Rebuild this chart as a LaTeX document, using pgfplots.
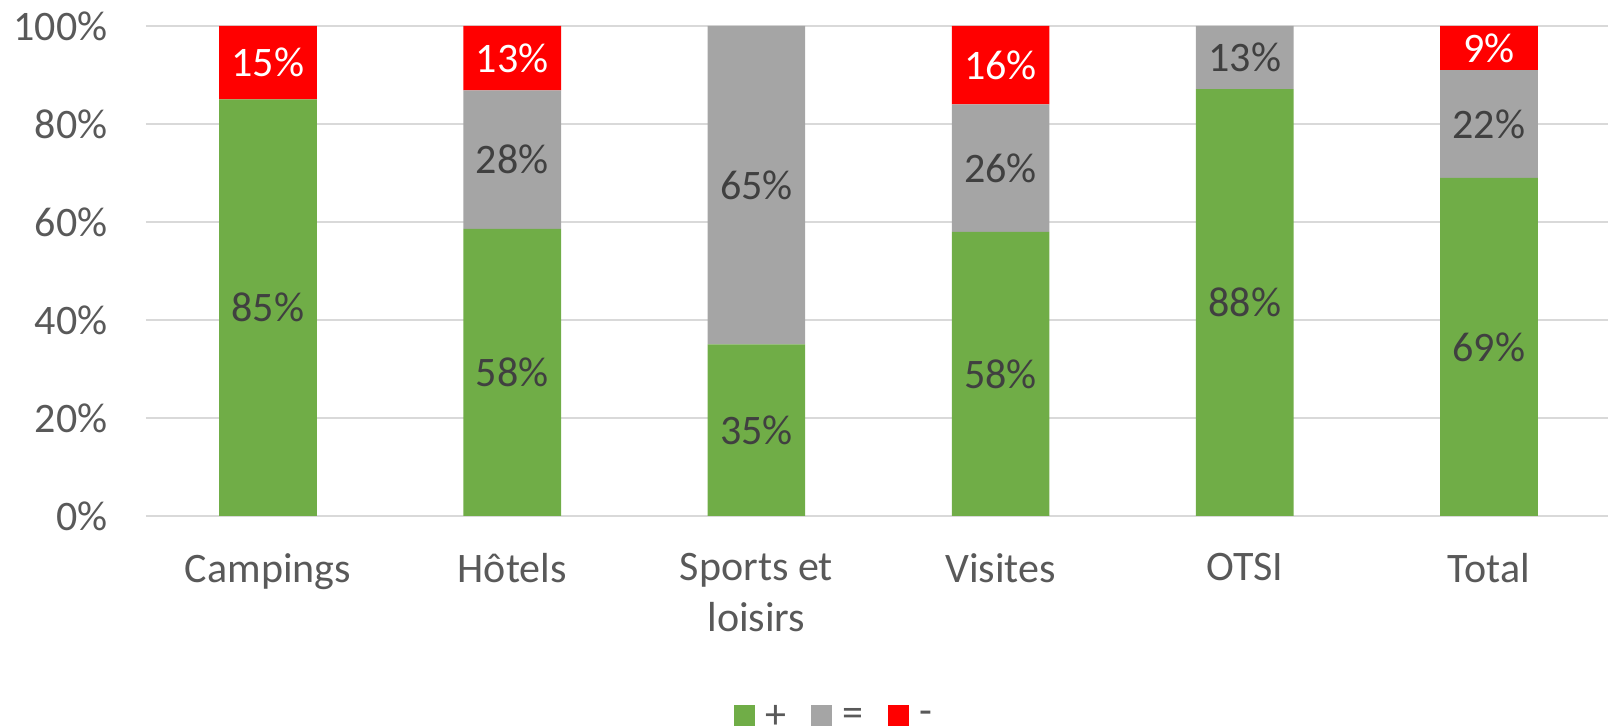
\documentclass[border=0pt]{standalone}
\usepackage{pgfplots}
\pgfplotsset{compat=1.18}
\usepackage{pgfplotstable}
\usepackage{fontspec}
\setmainfont{Carlito}
\definecolor{cgreen}{HTML}{70AD47}
\definecolor{cgray}{HTML}{A5A5A5}
\definecolor{cred}{HTML}{FF0000}
\definecolor{ctick}{HTML}{595959}
\definecolor{clab}{HTML}{404040}
\definecolor{cgrid}{HTML}{D9D9D9}
% values normalised to 100 (percent stacked), labels as shown
\pgfplotstableread{
x y lab
0 85 85\%
1 58.59 58\%
2 35 35\%
3 58 58\%
4 87.13 88\%
5 69 69\%
}\tplus
\pgfplotstableread{
x y lab
0 0 {}
1 28.28 28\%
2 65 65\%
3 26 26\%
4 12.87 13\%
5 22 22\%
}\teq
\pgfplotstableread{
x y lab
0 15 15\%
1 13.13 13\%
2 0 {}
3 16 16\%
4 0 {}
5 9 9\%
}\tminus
\pgfplotsset{sq legend/.style={legend image code/.code={\fill[##1] (0pt,-3.5pt) rectangle (10.5pt,7pt);}}}
\begin{document}
\begin{tikzpicture}
\useasboundingbox (0,0) rectangle (804pt,363pt);
\begin{axis}[
  at={(72.95pt,105pt)}, anchor=south west,
  scale only axis, width=731pt, height=245pt,
  ybar stacked, bar width=0.4,
  xmin=-0.5, xmax=5.487, ymin=0, ymax=100,
  xtick={0,...,5},
  xticklabels={Campings,Hôtels,{Sports et\\loisirs},Visites,OTSI,Total},
  ytick={0,20,40,60,80,100},
  yticklabels={0\%,20\%,40\%,60\%,80\%,100\%},
  ymajorgrids, grid style={cgrid, line width=1pt},
  axis line style={draw=none},
  major tick length=0pt,
  font=\fontsize{21}{25.5}\selectfont,
  ticklabel style={text=ctick, inner sep=0pt},
  xticklabel style={align=center, yshift=-18.5pt},
  yticklabel style={xshift=-19pt},
  point meta=explicit symbolic,
  nodes near coords,
  every node near coord/.append style={anchor=center, inner sep=0pt},
  legend style={at={(0.470,-0.413)}, anchor=center, draw=none, fill=none, inner sep=0pt,
    legend columns=-1, nodes={inner sep=0pt, text=ctick},
    /tikz/every even column/.append style={column sep=12pt},
    /tikz/every odd column/.append style={column sep=5.5pt}},
]
\addplot[fill=cgreen, draw=none, sq legend, nodes near coords style={text=clab}] table[x=x, y=y, meta=lab] {\tplus};
\addplot[fill=cgray, draw=none, sq legend, nodes near coords style={text=clab}] table[x=x, y=y, meta=lab] {\teq};
\addplot[fill=cred, draw=none, sq legend, nodes near coords style={text=white}] table[x=x, y=y, meta=lab] {\tminus};
\legend{+,=,-}
\end{axis}
\end{tikzpicture}
\end{document}
